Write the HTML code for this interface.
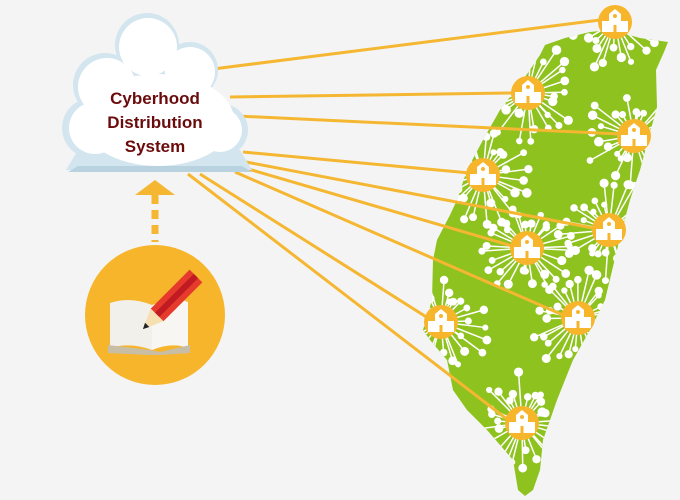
<!DOCTYPE html>
<html><head><meta charset="utf-8"><style>
html,body{margin:0;padding:0;background:#f4f4f4;width:680px;height:500px;overflow:hidden}
svg{display:block}
</style></head><body>
<svg id="s" width="680" height="500" viewBox="0 0 680 500" xmlns="http://www.w3.org/2000/svg">
<defs>
<clipPath id="tw"><path id="twp" d="M545,45 L565,38 L590,32 L610,30 L640,38 L668,42 L664,52 L656,70 L657,107 L648,140 L640,170 L630,200 L622,230 L617,250 L605,300 L590,330 L573,360 L557,400 L543,440 L540,470 L533,490 L525,496 L518,490 L513,460 L500,445 L487,430 L467,410 L453,390 L447,360 L430,340 L423,330 L432,300 L433,260 L437,240 L450,215 L457,200 L467,170 L483,140 L500,110 L523,80 L540,55 Z"/></clipPath>
</defs>
<rect width="680" height="500" fill="#f4f4f4"/>
<use href="#twp" fill="#8dc21f"/>
<g id="rays" stroke="#fff" stroke-width="1.5" fill="#fff" clip-path="url(#tw)"></g>
<g stroke="#f5b731" stroke-width="3" fill="none">
<line x1="213" y1="69" x2="600" y2="20"/>
<line x1="230" y1="97" x2="512" y2="93"/>
<line x1="237" y1="116" x2="620" y2="134"/>
<line x1="243" y1="152" x2="470" y2="173"/>
<line x1="246" y1="162" x2="593" y2="228"/>
<line x1="245" y1="168" x2="512" y2="246"/>
<line x1="235" y1="172" x2="563" y2="315"/>
<line x1="200" y1="174" x2="428" y2="318"/>
<line x1="188" y1="174" x2="508" y2="420"/>
</g>
<g id="hubs"></g>
<!-- cloud -->
<g fill="#d3e5ee">
<circle cx="147" cy="45" r="32"/>
<circle cx="190" cy="70" r="28"/>
<circle cx="105" cy="85" r="32"/>
<circle cx="92" cy="128" r="30"/>
<circle cx="222" cy="130" r="26"/>
<circle cx="160" cy="120" r="50"/>
<path d="M66,170 L252,170 L240,150 L78,150 Z"/>
</g>
<g fill="#fff">
<circle cx="148" cy="47" r="29"/>
<circle cx="190" cy="72" r="25"/>
<circle cx="107" cy="87" r="29"/>
<circle cx="95" cy="128" r="26"/>
<circle cx="220" cy="130" r="22"/>
<ellipse cx="158" cy="120" rx="76" ry="46"/>
</g>
<path d="M68,172 L252,172 L242,166 L78,166 Z" fill="#b9d2df"/>
<g font-family="Liberation Sans, sans-serif" font-weight="bold" font-size="17" fill="#6b0c0c" text-anchor="middle">
<text x="155" y="104">Cyberhood</text>
<text x="155" y="128">Distribution</text>
<text x="155" y="152">System</text>
</g>
<polygon points="155,180 135,195 175,195" fill="#f5b731"/>
<line x1="155" y1="195" x2="155" y2="242" stroke="#f5b731" stroke-width="7" stroke-dasharray="9,6"/>
<circle cx="155" cy="315" r="70" fill="#f7b52c"/>
<path d="M110,303 Q130,296 152,305 L152,350 Q130,342 110,348 Z" fill="#f2f0ea"/>
<path d="M152,305 Q175,296 188,302 L188,348 Q172,342 152,350 Z" fill="#f7f6f2"/>
<path d="M108,345 L150,350 L160,352 L190,345 L190,353 L160,355 L150,355 L108,353 Z" fill="#c8bda5"/>
<g transform="translate(150,322) rotate(-45)">
<rect x="10" y="-9" width="55" height="18" fill="#e63b2c"/>
<rect x="10" y="-3" width="55" height="6" fill="#c01a22"/>
<polygon points="10,-9 10,9 -10,0" fill="#f6dfb0"/>
<polygon points="-4,-3 -4,3 -10,0" fill="#222"/>
</g>
<script>
var seed=7;function r(){seed=(seed*16807)%2147483647;return seed/2147483647;}
var hubs=[[615,22],[528,93],[634,136],[483,175],[609,230],[527,248],[578,318],[441,322],[522,423]];
var ns="http://www.w3.org/2000/svg",R=document.getElementById('rays'),H=document.getElementById('hubs');
function el(t,a,p){var e=document.createElementNS(ns,t);for(var k in a)e.setAttribute(k,a[k]);p.appendChild(e);return e;}
hubs.forEach(function(h){
 var x0=h[0],y0=h[1];
 for(var i=0;i<30;i++){var a=i/30*Math.PI*2+r()*0.2,L=22+r()*30;
  var x=x0+Math.cos(a)*L,y=y0+Math.sin(a)*L;
  el('line',{x1:x0,y1:y0,x2:x,y2:y},R);
  el('circle',{cx:x,cy:y,r:3+r()*1.8,stroke:'none'},R);}
 el('circle',{cx:x0,cy:y0,r:17,fill:'#f7b52c'},H);
 el('rect',{x:x0-13,y:y0-1,width:26,height:11,fill:'#fff'},H);
 el('polygon',{points:(x0-6)+','+(y0-1)+' '+(x0-6)+','+(y0-8)+' '+x0+','+(y0-13)+' '+(x0+6)+','+(y0-8)+' '+(x0+6)+','+(y0-1),fill:'#fff'},H);
 el('circle',{cx:x0,cy:y0-6,r:2,fill:'#f7b52c'},H);
 el('rect',{x:x0-1.5,y:y0+3,width:3,height:7,fill:'#f7b52c'},H);
});
</script>
</svg>
</body></html>
